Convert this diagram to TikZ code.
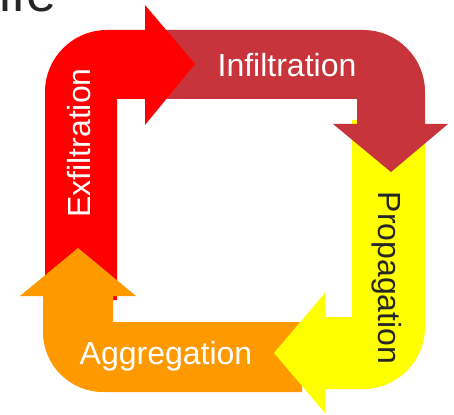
\documentclass[tikz,border=0pt]{standalone}
\usepackage{fontspec}
\setmainfont{Liberation Sans}
\definecolor{cRed}{RGB}{255,0,0}
\definecolor{cDark}{RGB}{200,52,60}
\definecolor{cYel}{RGB}{255,255,0}
\definecolor{cOra}{RGB}{255,153,0}
\definecolor{cTxt}{RGB}{38,38,38}
\begin{document}
\begin{tikzpicture}[x=1pt,y=-1pt,
  lbl/.style={inner sep=0pt,anchor=base,font=\fontsize{32}{38}\selectfont},
  ttl/.style={inner sep=0pt,anchor=base west,text=cTxt,font=\fontsize{54}{64}\selectfont}]
\path[use as bounding box,fill=white] (0,0) rectangle (454,414);
% shafts
\fill[cRed] (45,300) -- (45,92) .. controls (45,57.8) and (72.8,30) .. (107,30)
  -- (150,30) -- (150,99) -- (117,99) -- (117,300) -- cycle;
\fill[cYel] (352,120) -- (425,120) -- (425,327) .. controls (425,361.2) and (397.2,389) .. (363,389)
  -- (306,389) -- (306,317) -- (352,317) -- cycle;
\fill[cDark] (160,30) -- (363,30) .. controls (397.2,30) and (425,57.8) .. (425,92)
  -- (425,128) -- (357,128) -- (357,99) -- (160,99) -- cycle;
\fill[cOra] (302,322) -- (302,392) -- (103,392) .. controls (69.9,392) and (43,365.1) .. (43,332)
  -- (43,294) -- (113,294) -- (113,322) -- cycle;
% heads
\fill[cRed] (145,5) -- (195,64) -- (145,125) -- cycle;
\fill[cDark] (333,124) -- (448,124) -- (391,172) -- cycle;
\fill[cYel] (325,293) -- (325,413) -- (274,353) -- cycle;
\fill[cOra] (20,296) -- (136,296) -- (78,248) -- cycle;
% labels
\node[lbl,text=white] (inf) at (287,77) {Infiltration};
\node[lbl,text=cTxt,rotate=-90] (pro) at (378,278) {Propagation};
\node[lbl,text=white] (agg) at (166,364) {Aggregation};
\node[lbl,text=white,rotate=90] (exf) at (90,143) {Exfiltration};
\node[ttl] (title) at (-1,12) {ife};
\end{tikzpicture}
\end{document}
